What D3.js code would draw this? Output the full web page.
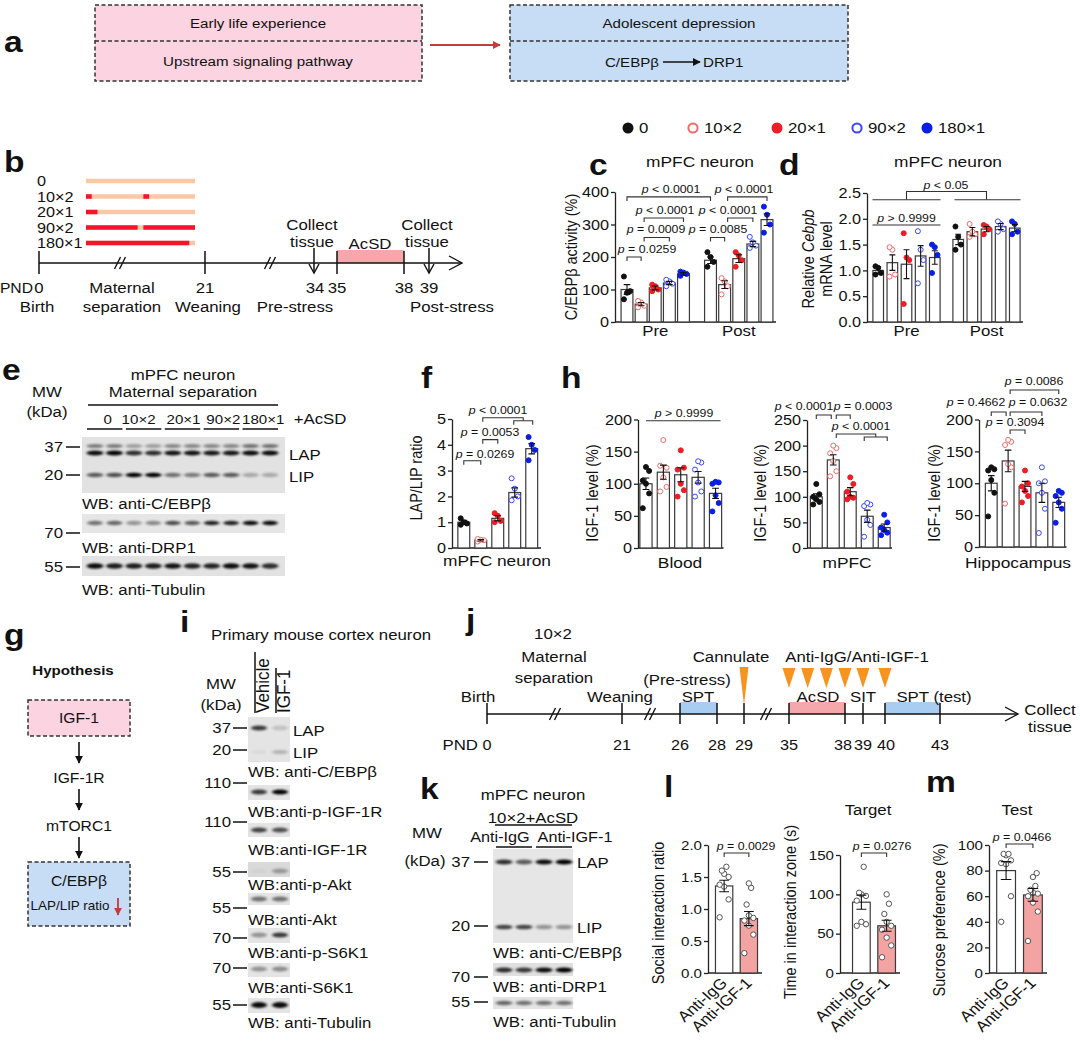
<!DOCTYPE html>
<html>
<head>
<meta charset="utf-8">
<script src="https://cdn.jsdelivr.net/npm/d3@7/dist/d3.min.js"></script>
<style>
html,body{margin:0;padding:0;background:#fff;}
svg{display:block;}
text{font-family:"Liberation Sans",Arial,Helvetica,sans-serif;fill:#111;}
</style>
</head>
<body>
<svg id="fig" width="1080" height="1041" viewBox="0 0 1080 1041"></svg>
<script>
// ================= DATA =================
const groups = ["0", "10×2", "20×1", "90×2", "180×1"];
const phases = ["Pre", "Post"];

// panel b: maternal separation schedule (minutes within daily window)
const msSessions = [[], [[0,10],[100,110]], [[0,20]], [[0,90],[100,190]], [[0,180]]];
const msMinutes = [0, 190];
const bDays = [0, 21, 34, 35, 38, 39];
const bCollectDays = [34, 39];

// panel c: C/EBPβ activity (%)
const cPreMean = [100, 55, 105, 120, 148];
const cPreSem = [15, 5, 6, 5, 4];
const cPrePts = [[140,95,90,70],[45,50,60,65],[95,100,110,115],[110,118,125,130],[142,148,152,155]];
const cPostMean = [190, 115, 195, 240, 315];
const cPostSem = [10, 12, 12, 8, 18];
const cPostPts = [[170,185,200,215],[85,110,125,135],[170,190,205,215],[228,235,245,262],[275,300,330,355]];
const cTicks = [0,100,200,300,400];
const cP = ["p = 0.0259","p = 0.0009","p < 0.0001","p < 0.0001","p = 0.0085","p < 0.0001","p < 0.0001"];

// panel d: relative Cebpb mRNA
const dPreMean = [1.0, 1.15, 1.12, 1.28, 1.25];
const dPreSem = [0.07, 0.15, 0.28, 0.2, 0.13];
const dPrePts = [[0.92,0.95,1.05,1.08],[0.88,0.92,1.4,1.45],[0.35,1.2,1.25,1.72],[0.75,1.2,1.4,1.76],[0.95,1.3,1.45,1.5]];
const dPostMean = [1.6, 1.75, 1.8, 1.85, 1.82];
const dPostSem = [0.1, 0.08, 0.05, 0.06, 0.07];
const dPostPts = [[1.4,1.5,1.65,1.85],[1.65,1.7,1.75,1.9],[1.7,1.8,1.85,1.88],[1.75,1.8,1.9,1.95],[1.7,1.75,1.9,1.95]];
const dTicks = [0,0.5,1,1.5,2,2.5];
const dP = ["p > 0.9999","p < 0.05"];

// panel e: western blot band intensities (10 lanes)
const eLanes = d3.range(10);
const eLapUpper = [0.45,0.45,0.3,0.3,0.4,0.4,0.4,0.4,0.5,0.5];
const eLap = [0.95,0.98,0.8,0.8,0.92,0.92,0.9,0.9,0.95,0.95];
const eLip = [0.6,0.65,1.0,1.0,0.5,0.45,0.6,0.6,0.25,0.25];
const eDrp1 = [0.5,0.55,0.35,0.4,0.65,0.6,0.85,0.85,0.95,0.95];
const eTub = [0.95,0.88,0.88,0.88,0.92,0.85,0.85,0.95,0.92,0.8];

// panel f: LAP/LIP ratio
const fMean = [1.0, 0.3, 1.15, 2.15, 3.85];
const fSem = [0.07, 0.03, 0.1, 0.18, 0.2];
const fPts = [[0.9,0.95,1.0,1.15],[0.25,0.3,0.32,0.35],[1.0,1.05,1.25,1.35],[1.85,2.0,2.3,2.7],[3.4,3.8,4.0,4.3]];
const fP = ["p = 0.0269","p = 0.0053","p < 0.0001"];

// panel h: IGF-1 level (%)
const hBloodMean = [100, 118, 114, 110, 85];
const hBloodSem = [9, 11, 11, 9, 8];
const hBloodPts = [[62,85,100,105,120,126],[88,95,110,128,125,168],[80,90,100,122,125,152],[80,88,102,122,133,135],[57,70,82,100,102,103]];
const hMpfcMean = [100, 172, 110, 62, 40];
const hMpfcSem = [6, 10, 8, 12, 7];
const hMpfcPts = [[85,90,95,100,105,125],[140,150,170,185,195,200],[95,98,100,110,125,138],[22,45,55,82,85,88],[25,30,35,40,50,65]];
const hHippoMean = [100, 135, 95, 85, 70];
const hHippoSem = [12, 17, 8, 15, 8];
const hHippoPts = [[48,85,105,120,122,125],[68,125,130,160,165,168],[70,80,88,95,100,120],[22,60,85,100,103,125],[38,60,70,80,85,88]];
const hBloodP = ["p > 0.9999"];
const hMpfcP = ["p < 0.0001","p = 0.0003","p < 0.0001"];
const hHippoP = ["p = 0.4662","p = 0.0632","p = 0.0086","p = 0.3094"];

// panel i: blots (2 lanes)
const iLanes = ["Vehicle","IGF-1"];
const iLabels = ["WB: anti-C/EBPβ","WB:anti-p-IGF-1R","WB:anti-IGF-1R","WB:anti-p-Akt","WB:anti-Akt","WB:anti-p-S6K1","WB:anti-S6K1","WB: anti-Tubulin"];
const iMarkers = ["37","110","110","55","55","70","70","55"];
const iBand = [[0.75,0.15],[0.75,1.0],[0.7,0.65],[0.03,0.3],[0.5,0.5],[0.35,0.75],[0.35,0.38],[0.95,0.95]];
const iLip = [0.04,0.22];

// panel j: timeline
const jDays = [0,21,26,28,29,35,38,39,40,43];
const jInjectDays = [35,36,37,38,39,40];

// panel k: blots (4 lanes)
const kGroups = ["Anti-IgG","Anti-IGF-1"];
const kLap = [0.8,0.6,0.95,1.0];
const kLip = [0.7,0.7,0.35,0.35];
const kDrp1 = [0.8,0.75,0.95,1.0];
const kTub = [0.55,0.5,0.5,0.5];

// panels l, m
const lmGroups = ["Anti-IgG","Anti-IGF-1"];
const lRatioMean = [1.36, 0.85];
const lRatioSem = [0.09, 0.11];
const lRatioPts = [[0.87,1.15,1.35,1.38,1.5,1.55,1.6,1.66],[0.31,0.6,0.74,0.82,0.86,0.9,1.07,1.33,1.4]];
const lTimeMean = [90, 60];
const lTimeSem = [9, 7];
const lTimePts = [[60,62,65,92,98,100,102,135],[20,35,45,55,60,65,75,88,100]];
const mMean = [80, 61];
const mSem = [7, 5];
const mPts = [[40,60,85,86,88,92,93,93],[25,48,55,60,62,63,65,68,75,78]];
const lmP = ["p = 0.0029","p = 0.0276","p = 0.0466"];

// ================= STYLE =================
const ptFill = ["#111","#fff","#ee1c25","#fff","#0b1ee6"];
const ptStroke = ["#111","#f06a6a","#ee1c25","#3a46ff","#0b1ee6"];
const SX = 1.12;
const jit = [-0.26, 0.26, 0, -0.26, 0.26, 0, -0.13, 0.13, 0, 0.2];

const svg = d3.select("#fig");
svg.append("rect").attr("width",1080).attr("height",1041).attr("fill","#fff");
const defs = svg.append("defs");
defs.append("filter").attr("id","blur").attr("x","-40%").attr("y","-300%").attr("width","180%").attr("height","700%")
  .append("feGaussianBlur").attr("stdDeviation","1.4 0.9");
function mk(id,color){
  defs.append("marker").attr("id",id).attr("viewBox","0 0 10 10").attr("refX",9).attr("refY",5)
    .attr("markerWidth",8).attr("markerHeight",8).attr("markerUnits","userSpaceOnUse").attr("orient","auto")
    .append("path").attr("d","M0,0L10,5L0,10z").attr("fill",color);
}
mk("ahK","#111"); mk("ahR","#c43c3c");

function T(g,x,y,s,o={}){
  const t = g.append("text")
    .attr("transform",`translate(${x},${y}) scale(${SX},1)`+(o.rot?` rotate(${o.rot})`:""))
    .attr("font-size",o.size||15).attr("text-anchor",o.anchor||"middle");
  if(!o.base) t.attr("dy","0.35em");
  if(o.bold) t.attr("font-weight","bold");
  if(o.fill) t.style("fill",o.fill);
  const parts = Array.isArray(s)? s : [s];
  parts.forEach(p=>{
    if(typeof p==="string") t.append("tspan").text(p);
    else { const ts=t.append("tspan").text(p.t); if(p.it) ts.attr("font-style","italic"); if(p.fill) ts.style("fill",p.fill); }
  });
  return t;
}
function pLab(g,x,y,s){ return T(g,x,y,[{t:s.slice(0,1),it:true}, s.slice(1)],{size:11}); }
function line(g,x1,y1,x2,y2,o={}){
  return g.append("line").attr("x1",x1).attr("y1",y1).attr("x2",x2).attr("y2",y2)
    .attr("stroke",o.c||"#111").attr("stroke-width",o.w||1.3).attr("stroke-dasharray",o.dash||null)
    .attr("marker-end",o.m?`url(#${o.m})`:null);
}
function path(g,d,o={}){ return g.append("path").attr("d",d).attr("fill","none").attr("stroke",o.c||"#333").attr("stroke-width",o.w||1.1); }
function brk2(g,x1,x2,y,t=4){ return path(g,`M${x1},${y+t}V${y}H${x2}V${y+t}`); }
function breakMark(g,x,y){ [-2.5,2.5].forEach(d=>line(g,x+d-3,y+6,x+d+3,y-6,{w:1.4})); }
function chevron(g,x,y,dir){
  if(dir==='r') path(g,`M${x-13},${y-7}L${x},${y}L${x-13},${y+7}`,{c:"#111",w:1.4});
  else path(g,`M${x-5},${y-9}L${x},${y}L${x+5},${y-9}`,{c:"#111",w:1.4});
}
function dashedBox(g,x,y,w,h,fill,mid){
  g.append("rect").attr("x",x).attr("y",y).attr("width",w).attr("height",h).attr("fill",fill)
    .attr("stroke","#333").attr("stroke-width",1.5).attr("stroke-dasharray","4,2.5");
  if(mid) line(g,x,mid,x+w,mid,{c:"#333",w:1.5,dash:"4,2.5"});
}
function yAxis(g,x,y,ticks,fmt,size=14.5){
  const a = g.append("g").attr("transform",`translate(${x},0)`)
    .call(d3.axisLeft(y).tickValues(ticks).tickFormat(fmt).tickSize(4).tickSizeOuter(0).tickPadding(2));
  a.attr("font-family",null).attr("font-size",null);
  a.select(".domain").attr("stroke","#222").attr("stroke-width",1.3);
  a.selectAll(".tick line").attr("stroke","#222").attr("stroke-width",1.3);
  a.selectAll(".tick text").each(function(){
    const tx = +this.getAttribute("x");
    d3.select(this).attr("x",0).attr("transform",`translate(${tx},0) scale(${SX},1)`).attr("font-size",size).style("fill","#111");
  });
  return a;
}
function drawBars(g,xf,bw,y,means,sems,pts,st={}){
  const y0 = y(0);
  means.forEach((m,i)=>{
    g.append("rect").attr("x",xf(i)-bw/2).attr("y",y(m)).attr("width",bw).attr("height",y0-y(m))
      .attr("fill",st.barFill?st.barFill[i]:"#fff").attr("stroke","#3a3a3a").attr("stroke-width",1.2);
  });
  pts.forEach((arr,i)=>arr.forEach((v,j)=>{
    g.append("circle").attr("cx",xf(i)+jit[j%jit.length]*bw).attr("cy",y(v)).attr("r",st.r||2.5)
      .attr("fill",st.ptFill?st.ptFill[i]:ptFill[i]).attr("stroke",st.ptStroke?st.ptStroke[i]:ptStroke[i]).attr("stroke-width",1);
  }));
  means.forEach((m,i)=>{
    const x=xf(i), c=bw*0.28, t=y(m+sems[i]), b=y(m-sems[i]);
    path(g,`M${x},${b}V${t}M${x-c},${t}H${x+c}M${x-c},${b}H${x+c}`,{c:"#111",w:1.1});
  });
}
function blotStrip(g,x,y,w,h,shade){ g.append("rect").attr("x",x).attr("y",y).attr("width",w).attr("height",h).attr("fill",shade||"#e4e4e4"); }
function bands(g,xs,y,vals,rx,ry){
  vals.forEach((v,i)=>g.append("ellipse").attr("cx",xs[i]).attr("cy",y).attr("rx",rx).attr("ry",ry)
    .attr("fill","#000").attr("opacity",v).attr("filter","url(#blur)"));
}
function mwMark(g,xr,y,s,dx1,dx2){ T(g,xr,y,s,{anchor:"end"}); line(g,dx1,y,dx2,y,{w:1.5}); }
const letter = (x,y,s)=>T(svg,x,y,s,{size:30,bold:true,anchor:"start",base:true});

// ================= PANEL a =================
const gA = svg.append("g");
letter(4,52,"a");
dashedBox(gA,95,5,327,76,"#fbd3e1",41);
T(gA,258,23,"Early life experience",{size:13.5});
T(gA,258,61,"Upstream signaling pathway",{size:13.5});
line(gA,430,45,500,45,{c:"#c43c3c",w:2,m:"ahR"});
dashedBox(gA,510,5,338,76,"#c7ddf6",41);
T(gA,679,23,"Adolescent depression",{size:13.5});
T(gA,659,62,"C/EBPβ",{size:13.5,anchor:"end"});
line(gA,663,62,700,62,{w:1.5,m:"ahK"});
T(gA,703,62,"DRP1",{size:13.5,anchor:"start"});

// ================= PANEL b =================
const gB = svg.append("g");
letter(4,172,"b");
const msX = d3.scaleLinear().domain(msMinutes).range([86,195]);
groups.forEach((r,i)=>{
  const y = 181 + i*15.5;
  T(gB,37,y,r,{anchor:"start",size:14.5});
  line(gB,msX(msMinutes[0]),y,msX(msMinutes[1]),y,{c:"#fbc8a6",w:4.5});
  msSessions[i].forEach(s=>line(gB,msX(s[0]),y,msX(s[1]),y,{c:"#f5142a",w:4.5}));
});
const bX = d3.scaleLinear().domain(bDays).range([39,205,314,337,404,429]);
const bY = 263;
gB.append("rect").attr("x",bX(35)).attr("y",bY-13).attr("width",bX(38)-bX(35)).attr("height",13).attr("fill","#f5a8ab");
line(gB,39,bY,462,bY,{w:1.5});
chevron(gB,462,bY,'r');
[0,21,35,38].forEach(d=>line(gB,bX(d),bY-12,bX(d),bY+11,{w:1.5}));
bCollectDays.forEach(d=>{ line(gB,bX(d),bY-15,bX(d),bY+10,{w:1.5}); chevron(gB,bX(d),bY+10,'d'); });
breakMark(gB,120,bY); breakMark(gB,270,bY);
T(gB,370,244,"AcSD");
bCollectDays.forEach(d=>{ T(gB,bX(d)-2,225,"Collect"); T(gB,bX(d)-2,242,"tissue"); });
T(gB,33,288,"PND",{anchor:"end",size:14});
[0,21,34,35,38,39].forEach(d=>T(gB,bX(d)+(d===34?1:0),288,String(d)));
T(gB,37,307,"Birth");
T(gB,122,288,"Maternal"); T(gB,122,307,"separation");
T(gB,208,307,"Weaning");
T(gB,295,307,"Pre-stress");
T(gB,452,307,"Post-stress");

// ================= LEGEND =================
const gL = svg.append("g");
const legX = [628,693,777,857,927];
groups.forEach((s,i)=>{
  gL.append("circle").attr("cx",legX[i]).attr("cy",128).attr("r",ptFill[i]==="#fff"?4.6:5.5)
    .attr("fill",ptFill[i]).attr("stroke",ptStroke[i]).attr("stroke-width",ptFill[i]==="#fff"?2:0);
  T(gL,legX[i]+11,128,s,{anchor:"start",size:15});
});

// ================= PANEL c =================
const gC = svg.append("g");
letter(589,175,"c");
T(gC,700,162,"mPFC neuron",{size:15.5});
const cY = d3.scaleLinear().domain([0,400]).range([322,192]);
const cOuter = d3.scaleBand().domain(phases).range([620.5,773.5]).paddingInner(0.168);
const cInner = d3.scaleBand().domain(groups).range([0,cOuter.bandwidth()]).paddingInner(0.16).paddingOuter(0.04);
const cx = (ph,i)=>cOuter(ph)+cInner(groups[i])+cInner.bandwidth()/2;
line(gC,615,cY(0),776,cY(0),{c:"#222"});
drawBars(gC,i=>cx("Pre",i),cInner.bandwidth(),cY,cPreMean,cPreSem,cPrePts);
drawBars(gC,i=>cx("Post",i),cInner.bandwidth(),cY,cPostMean,cPostSem,cPostPts);
yAxis(gC,615,cY,cTicks,d3.format("d"));
T(gC,571,257,"C/EBPβ activity (%)",{rot:-90,size:14.5});
phases.forEach(ph=>T(gC,cOuter(ph)+cOuter.bandwidth()/2,331,ph,{size:15}));
{
  const L=[[ ["Pre",0],["Pre",1],200,647 ],[ ["Pre",1],["Pre",3],260,656 ],[ ["Pre",1],["Pre",4],320,665 ],[ ["Pre",0],["Post",0],385,671 ],
           [ ["Post",0],["Post",1],260,718 ],[ ["Post",1],["Post",3],320,728 ],[ ["Post",1],["Post",4],385,744 ]];
  L.forEach((b,k)=>{
    const x1=cx(b[0][0],b[0][1])+(k===1||k===2||k===5||k===6?3:0), x2=cx(b[1][0],b[1][1]);
    brk2(gC,x1,x2,cY(b[2]));
    pLab(gC,b[3],cY(b[2])-8,cP[k]);
  });
}

// ================= PANEL d =================
const gD = svg.append("g");
letter(779,175,"d");
T(gD,948,162,"mPFC neuron",{size:15.5});
const dY = d3.scaleLinear().domain([0,2.5]).range([322,193]);
const dOuter = d3.scaleBand().domain(phases).range([871.5,1021.5]).paddingInner(0.125);
const dInner = d3.scaleBand().domain(groups).range([0,dOuter.bandwidth()]).paddingInner(0.25).paddingOuter(0.1);
const dx = (ph,i)=>dOuter(ph)+dInner(groups[i])+dInner.bandwidth()/2;
line(gD,867,dY(0),1023,dY(0),{c:"#222"});
drawBars(gD,i=>dx("Pre",i),dInner.bandwidth(),dY,dPreMean,dPreSem,dPrePts);
drawBars(gD,i=>dx("Post",i),dInner.bandwidth(),dY,dPostMean,dPostSem,dPostPts);
yAxis(gD,867,dY,dTicks,d3.format(".1f"));
T(gD,808,259,["Relative ",{t:"Cebpb",it:true}],{rot:-90,size:14.5});
T(gD,826,259,"mRNA level",{rot:-90,size:14.5});
phases.forEach(ph=>T(gD,dOuter(ph)+dOuter.bandwidth()/2,331,ph,{size:15}));
{
  const preC = dOuter("Pre")+dOuter.bandwidth()/2, postC = dOuter("Post")+dOuter.bandwidth()/2;
  path(gD,`M${dOuter("Pre")+1},${dY(1.88)}H${dOuter("Pre")+dOuter.bandwidth()-1}`);
  pLab(gD,preC,dY(1.88)-7,dP[0]);
  const gy = dY(2.37), ty = dY(2.53);
  path(gD,`M${dOuter("Pre")+1},${gy}H${dOuter("Pre")+dOuter.bandwidth()-1}`);
  path(gD,`M${dOuter("Post")+3},${gy}H${dOuter("Post")+dOuter.bandwidth()-1}`);
  path(gD,`M${preC},${gy}V${ty}H${postC}V${gy}`);
  pLab(gD,946,ty-6,dP[1]);
}

// ================= PANEL e =================
const gE = svg.append("g");
letter(2,380,"e");
T(gE,183,375,"mPFC neuron");
T(gE,183,392,"Maternal separation");
line(gE,88,405,278,405,{w:1.5});
T(gE,47,392,"MW"); T(gE,47,412,"(kDa)");
const eX = d3.scalePoint().domain(eLanes).range([95,270]);
const eLabDx = [3,-5,1,2,3];
groups.forEach((s,k)=>{
  const a=eX(2*k), b=eX(2*k+1);
  T(gE,(a+b)/2+eLabDx[k],419,s,{size:13.5});
  line(gE,a-8,429,b+8,429,{w:1.5});
});
T(gE,320,419,"+AcSD");
const eXs = eLanes.map(i=>eX(i));
blotStrip(gE,82,437,203,56,"#e2e2e2");
bands(gE,eXs,446,eLapUpper,8.5,2);
bands(gE,eXs,453,eLap,8.5,2.6);
bands(gE,eXs,475,eLip,8.5,2.2);
mwMark(gE,63,447,"37",66,80);
mwMark(gE,63,475,"20",66,80);
T(gE,289,455,"LAP",{anchor:"start"});
T(gE,289,477,"LIP",{anchor:"start"});
T(gE,82,504,"WB: anti-C/EBPβ",{anchor:"start"});
blotStrip(gE,82,514,203,19,"#e6e6e6");
bands(gE,eXs,523,eDrp1,8,2.2);
mwMark(gE,63,533,"70",66,80);
T(gE,82,548,"WB: anti-DRP1",{anchor:"start"});
blotStrip(gE,82,556,203,20,"#e2e2e2");
bands(gE,eXs,566,eTub,8.5,2.8);
mwMark(gE,63,567,"55",66,80);
T(gE,82,590,"WB: anti-Tubulin",{anchor:"start"});

// ================= PANEL f =================
const gF = svg.append("g");
letter(421,388,"f");
const fY = d3.scaleLinear().domain([0,5]).range([548,419]);
const fX = d3.scaleBand().domain(groups).range([457,538.5]).paddingInner(0.3).paddingOuter(0.05);
const fx = i=>fX(groups[i])+fX.bandwidth()/2;
line(gF,452,fY(0),541,fY(0),{c:"#222"});
drawBars(gF,fx,fX.bandwidth(),fY,fMean,fSem,fPts);
yAxis(gF,452,fY,[0,1,2,3,4,5],d3.format("d"));
T(gF,416,478,"LAP/LIP ratio",{rot:-90,size:14.5});
T(gF,497,561,"mPFC neuron",{size:15.5});
brk2(gF,fx(0),fx(1),fY(3.38)); pLab(gF,485,fY(3.38)-7,fP[0]);
brk2(gF,fx(1)+2,fx(2),fY(4.2)); pLab(gF,490,fY(4.2)-7,fP[1]);
{
  const y1=fY(5.05), mid=(fx(3)+fx(4))/2;
  path(gF,`M${fx(1)+2},${y1+4}V${y1}H${mid}V${y1+3}`);
  brk2(gF,fx(3)-1,fx(4)+1,y1+3);
  pLab(gF,498,y1-8,fP[2]);
}

// ================= PANEL h =================
const gH = svg.append("g");
letter(561,388,"h");
function hPanel(axX,r0,r1,yBot,yTop,max,ticks,means,sems,pts,lab,labX,ylabX){
  const y = d3.scaleLinear().domain([0,max]).range([yBot,yTop]);
  const x = d3.scaleBand().domain(groups).range([r0,r1]).paddingInner(0.3).paddingOuter(0.05);
  const xf = i=>x(groups[i])+x.bandwidth()/2;
  line(gH,axX,y(0),r1+1,y(0),{c:"#222"});
  drawBars(gH,xf,x.bandwidth(),y,means,sems,pts);
  yAxis(gH,axX,y,ticks,d3.format("d"));
  T(gH,labX,563,lab,{size:15.5});
  T(gH,ylabX,493,"IGF-1 level (%)",{rot:-90,size:14.5});
  return {y,xf};
}
const hb = hPanel(638,639,722.5,548,419.5,200,[0,50,100,150,200],hBloodMean,hBloodSem,hBloodPts,"Blood",680,592);
path(gH,`M${hb.xf(0)},${hb.y(198)}H${hb.xf(4)+5}`); pLab(gH,684,hb.y(198)-8,hBloodP[0]);
const hm = hPanel(807,809.5,891,548,420,250,[0,50,100,150,200,250],hMpfcMean,hMpfcSem,hMpfcPts,"mPFC",847,760);
brk2(gH,hm.xf(0),hm.xf(1)-2,415); pLab(gH,804,406,hMpfcP[0]);
brk2(gH,hm.xf(1)+3,hm.xf(2),415); pLab(gH,863,406,hMpfcP[1]);
{
  const mid=(hm.xf(3)+hm.xf(4))/2;
  path(gH,`M${hm.xf(1)+3},${438}V434H${mid}V437`);
  brk2(gH,hm.xf(3)-3,hm.xf(4)+3,437);
  pLab(gH,861,426,hMpfcP[2]);
}
const hh = hPanel(979,984.5,1065.5,547,419.5,200,[0,50,100,150,200],hHippoMean,hHippoSem,hHippoPts,"Hippocampus",1018,934);
brk2(gH,hh.xf(0),hh.xf(1)-2,412); pLab(gH,976,402,hHippoP[0]);
brk2(gH,hh.xf(1)+2,hh.xf(3),412); pLab(gH,1038,402,hHippoP[1]);
brk2(gH,hh.xf(1)+2,hh.xf(4),390); pLab(gH,1034,381,hHippoP[2]);
brk2(gH,hh.xf(1)+2,hh.xf(2),430); pLab(gH,1015,422,hHippoP[3]);

// ================= PANEL g =================
const gG = svg.append("g");
letter(4,645,"g");
T(gG,73,670,"Hypothesis",{size:13.5,bold:true});
dashedBox(gG,28,700,102,36,"#fbd3e1");
T(gG,79,718,"IGF-1",{size:14});
line(gG,79,742,79,763,{w:1.6,m:"ahK"});
T(gG,79,778,"IGF-1R",{size:14});
line(gG,79,789,79,810,{w:1.6,m:"ahK"});
T(gG,79,826,"mTORC1",{size:14});
line(gG,79,837,79,858,{w:1.6,m:"ahK"});
dashedBox(gG,28,862,102,64,"#c7ddf6");
T(gG,79,881,"C/EBPβ",{size:14});
T(gG,70,906,"LAP/LIP ratio",{size:12});
line(gG,118,898,118,915,{c:"#c43c3c",w:1.8,m:"ahR"});

// ================= PANEL i =================
const gI = svg.append("g");
letter(180,632,"i");
T(gI,321,635,"Primary mouse cortex neuron");
T(gI,221,684,"MW"); T(gI,221,705,"(kDa)");
const iX = d3.scalePoint().domain(iLanes).range([259,280]);
iLanes.forEach((s,k)=>{
  const lx = k===0?255:276;
  T(gI,lx+14,713,s,{rot:-90,anchor:"start",base:true,size:17});
  line(gI,lx,k===0?652:668,lx,713,{w:1.5});
});
const iXs = iLanes.map(s=>iX(s));
const iLay = [[717,45,728,728,772],[785,15,792,783,812],[823,14,830,822,850],[862,15,871,872,885],[893,12,899,908,920],[928,15,935,938,953],[963,14,969,968,988],[998,15,1005,1005,1023]];
iLay.forEach((L,k)=>{
  blotStrip(gI,248,L[0],42,L[1],k===3?"#d9d9d9":"#e4e4e4");
  bands(gI,iXs,L[2],iBand[k],8,k===7?3:2.4);
  mwMark(gI,231,L[3],iMarkers[k],233,247);
  T(gI,248,L[4],iLabels[k],{anchor:"start"});
});
bands(gI,iXs,752,iLip,8,2);
mwMark(gI,231,750,"20",233,247);
T(gI,293,731,"LAP",{anchor:"start"});
T(gI,293,753,"LIP",{anchor:"start"});

// ================= PANEL j =================
const gJ = svg.append("g");
letter(466,630,"j");
const jX = d3.scaleLinear().domain(jDays).range([487,622,680,717,744,789,845,863,885,940]);
const jY = 714;
[[26,28,"#a8cdf1"],[35,38,"#f5a8ab"],[40,43,"#a8cdf1"]].forEach(b=>
  gJ.append("rect").attr("x",jX(b[0])).attr("y",jY-12).attr("width",jX(b[1])-jX(b[0])).attr("height",12).attr("fill",b[2]));
line(gJ,487,jY,1018,jY,{w:1.5});
chevron(gJ,1018,jY,'r');
jDays.forEach(d=>line(gJ,jX(d),jY-11,jX(d),jY+10,{w:1.5}));
[555,650,766].forEach(x=>breakMark(gJ,x,jY));
T(gJ,478,745,"PND",{anchor:"end"});
const jLabDx = {38:-2, 39:0, 40:1};
jDays.forEach(d=>T(gJ,jX(d)+(jLabDx[d]||0),745,String(d),{size:14.5}));
T(gJ,478,697,"Birth");
T(gJ,620,697,"Weaning");
T(gJ,687,680,"(Pre-stress)");
T(gJ,698,697,"SPT");
T(gJ,818,697,"AcSD");
T(gJ,jX(39),697,"SIT");
T(gJ,934,697,"SPT (test)");
T(gJ,553,634,"10×2");
T(gJ,554,657,"Maternal");
T(gJ,554,678,"separation");
T(gJ,731,657,"Cannulate");
T(gJ,857,657,"Anti-IgG/Anti-IGF-1");
gJ.append("path").attr("d",`M${jX(29)-4.5},667L${jX(29)+4.5},667L${jX(29)},705Z`).attr("fill","#f7931e");
jInjectDays.forEach(d=>gJ.append("path").attr("d",`M${jX(d)-6.5},668L${jX(d)+6.5},668L${jX(d)},688Z`).attr("fill","#f7931e"));
T(gJ,1050,710,"Collect"); T(gJ,1050,727,"tissue");

// ================= PANEL k =================
const gK = svg.append("g");
letter(420,799,"k");
T(gK,533,795,"mPFC neuron");
T(gK,533,818,"10×2+AcSD");
line(gK,495,825,572,825,{w:1.5});
const kX = d3.scalePoint().domain(d3.range(4)).range([504,564]);
const kXs = d3.range(4).map(i=>kX(i));
const kLabX = [500,575];
kGroups.forEach((s,k)=>{
  const a=kX(2*k), b=kX(2*k+1);
  T(gK,kLabX[k],837,s,{size:14.5});
  line(gK,a-8,847,b+8,847,{w:1.5});
});
T(gK,427,833,"MW"); T(gK,425,861,"(kDa)");
blotStrip(gK,493,849,80,94,"#e6e6e6");
bands(gK,kXs,862,kLap,8.5,2.5);
bands(gK,kXs,927,kLip,8.5,2.3);
mwMark(gK,470,862,"37",474,488);
mwMark(gK,470,926,"20",474,488);
T(gK,577,863,"LAP",{anchor:"start"});
T(gK,577,928,"LIP",{anchor:"start"});
T(gK,493,953,"WB: anti-C/EBPβ",{anchor:"start"});
blotStrip(gK,493,963,80,13,"#e0e0e0");
bands(gK,kXs,970,kDrp1,8.5,2.4);
mwMark(gK,470,977,"70",474,488);
T(gK,493,987,"WB: anti-DRP1",{anchor:"start"});
blotStrip(gK,493,997,80,12,"#e4e4e4");
bands(gK,kXs,1003,kTub,8.5,2.2);
mwMark(gK,470,1002,"55",474,488);
T(gK,493,1022,"WB: anti-Tubulin",{anchor:"start"});

// ================= PANELS l, m =================
const gLM = svg.append("g");
letter(664,797,"l");
letter(926,792,"m");
const lmSt = {barFill:["#fff","#f4a3a3"],ptFill:["#fff","#fff"],ptStroke:["#555","#555"],r:2.7};
function lmPanel(axX,r0,r1,max,yTop,ticks,fmt,means,sems,pts,ylab,ylabY,pl,pX,brY){
  const y = d3.scaleLinear().domain([0,max]).range([973,yTop]);
  const x = d3.scaleBand().domain(lmGroups).range([r0,r1]).paddingInner(0.3).paddingOuter(0.1);
  const xf = i=>x(lmGroups[i])+x.bandwidth()/2;
  line(gLM,axX,y(0),r1+2,y(0),{c:"#222"});
  drawBars(gLM,xf,x.bandwidth(),y,means,sems,pts,lmSt);
  yAxis(gLM,axX,y,ticks,fmt,13.5);
  lmGroups.forEach((s,i)=>T(gLM,xf(i)+4,984,s,{rot:-45,anchor:"end",base:true,size:15}));
  T(gLM,axX-50,ylabY,ylab,{rot:-90,size:14.5});
  brk2(gLM,xf(0),xf(1),brY);
  pLab(gLM,pX,brY-7,pl);
  return xf;
}
lmPanel(708,713,760,2,845,[0,0.5,1,1.5,2],d3.format(".1f"),lRatioMean,lRatioSem,lRatioPts,"Social interaction ratio",913,lmP[0],746,853);
lmPanel(840,850,898,150,855,[0,50,100,150],d3.format("d"),lTimeMean,lTimeSem,lTimePts,"Time in interaction zone (s)",912,lmP[1],882,853);
T(gLM,868,810,"Target");
lmPanel(989,994,1045,100,845,[0,20,40,60,80,100],d3.format("d"),mMean,mSem,mPts,"Sucrose preference (%)",920,lmP[2],1022,844);
T(gLM,1017,810,"Test");
</script>
</body>
</html>
